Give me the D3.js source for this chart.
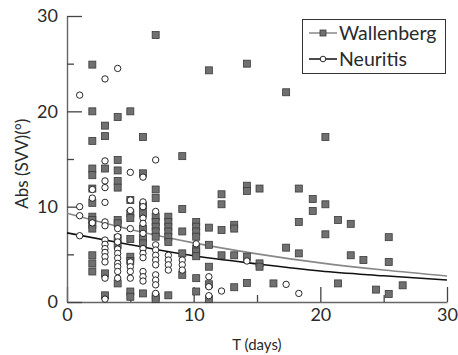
<!DOCTYPE html>
<html>
<head>
<meta charset="utf-8">
<script src="https://cdn.jsdelivr.net/npm/d3@7"></script>
<style>
  body { margin: 0; background: #fff; }
  svg text { font-family: Lato, "DejaVu Sans", sans-serif; fill: #2a2a2a; }
</style>
</head>
<body>
<div id="chart"></div>
<script>
// series values: [T (days), Abs(SVV) degrees]
const wallenberg = [
  [7, 28.0], [2, 24.9], [11.2, 24.3], [14.2, 25.0], [17.3, 22.0], [2, 20.0], [5, 20.0], [4, 19.4],
  [20.4, 17.3], [3, 18.5], [3, 17.4], [6, 17.3], [2, 16.9], [4, 14.9], [9.1, 15.3], [2, 14.0],
  [2, 13.3], [3, 14.0], [4, 13.8], [6, 13.5], [4, 12.7], [4, 12.0], [2, 11.9], [7, 11.8],
  [7, 10.9], [2, 10.4], [5, 10.7], [6, 10.1], [9.1, 9.75],
  [12.2, 11.3], [12.2, 10.25], [14.2, 12.2], [14.2, 11.65], [15.2, 11.9], [18.3, 11.9],
  [19.4, 10.8], [19.4, 9.55], [20.4, 10.25], [21.4, 8.6], [22.4, 8.2], [20.4, 7.1], [25.4, 6.8],
  [22.4, 4.9], [23.4, 4.4], [25.4, 4.2], [21.4, 1.95], [24.4, 1.3], [25.4, 0.85], [26.5, 1.75],
  [18.3, 8.4], [9.1, 7.4], [10.2, 8.4], [10.2, 7.9], [10.2, 7.4], [10.2, 6.85], [11.2, 7.8],
  [12.2, 7.55], [13.2, 8.1], [13.2, 7.7], [10.2, 5.6], [10.2, 5.3], [10.2, 4.8], [11.2, 6.0],
  [17.3, 5.7], [18.3, 5.1], [12.2, 4.9], [13.2, 4.9], [14.2, 4.75], [15.2, 4.05], [15.2, 3.7],
  [9.1, 5.1], [9.1, 2.85], [10.2, 2.5], [11.2, 3.7], [11.2, 1.86], [11.2, 0.3], [13.2, 1.55],
  [14.2, 2.0], [16.3, 1.95], [10.2, 1.1],
  [2, 8.95], [2, 8.6], [2, 8.1], [2, 7.7], [2, 4.9], [2, 4.05], [2, 3.2],
  [3, 3.0], [3, 0.7],
  [4, 8.6], [4, 8.25], [4, 6.7], [4, 6.0], [4, 1.95],
  [5, 9.3], [5, 8.8], [5, 6.6], [5, 4.75], [5, 4.3], [5, 1.1], [5, 0.55],
  [6, 9.3], [6, 7.7], [6, 6.7], [6, 6.15], [6, 0.9],
  [7, 8.95], [7, 8.4], [7, 7.9], [7, 7.4], [7, 6.85], [7, 0.55], [7, 0.3],
  [8, 8.95], [8, 8.4], [8, 7.9], [8, 7.4], [8, 6.85], [8, 6.3], [8, 0.7]
];

const neuritis = [
  [4, 24.5], [3, 23.4], [1, 21.7], [3, 14.8], [7, 14.9], [5, 13.6], [6, 13.1], [3, 12.7],
  [3, 12.0], [2, 11.8], [2, 10.9], [3, 10.45], [5, 10.7], [6, 10.5], [1, 10.0],
  [1, 9.05], [1, 6.95], [2, 8.3],
  [3, 8.4], [3, 8.0], [3, 6.5], [3, 6.05], [3, 5.6], [3, 5.2], [3, 4.75], [3, 4.2], [3, 2.5], [3, 0.3],
  [4, 7.7], [4, 6.85], [4, 6.3], [4, 5.55], [4, 5.1], [4, 4.6], [4, 4.05], [4, 3.7], [4, 3.2], [4, 2.5],
  [5, 9.6], [5, 7.7], [5, 4.2], [5, 3.7], [5, 3.2], [5, 2.5],
  [6, 10.0], [6, 8.8], [6, 8.25], [6, 7.2], [6, 5.6], [6, 5.1], [6, 4.65], [6, 3.2], [6, 2.65], [6, 2.2],
  [7, 9.5], [7, 6.0], [7, 5.45], [7, 4.9], [7, 4.4], [7, 3.9], [7, 2.85], [7, 2.3], [7, 1.8], [7, 0.9],
  [8, 4.9], [8, 4.4], [8, 3.9], [8, 3.35],
  [9.1, 4.4], [9.1, 3.9], [9.1, 3.35],
  [10.2, 6.1], [14.2, 4.3], [11.2, 2.65], [11.2, 1.6], [11.2, 0.66], [12.2, 1.15], [17.3, 1.85], [18.3, 0.9]
];

// fitted curves
const wallenbergFit = [[0, 9.3], [5, 7.6], [10, 6.2], [15, 5.05], [20, 4.1], [25, 3.35], [30, 2.73]];
const neuritisFit = [[0, 7.25], [5, 6.0], [10, 4.85], [15, 4.0], [20, 3.25], [25, 2.75], [30, 2.3]];

const majorTicks = [0, 10, 20, 30];
const minorTicks = [5, 15, 25];
const seriesNames = ['Wallenberg', 'Neuritis'];

const width = 458, height = 355;
const svg = d3.select('#chart').append('svg')
  .attr('width', width)
  .attr('height', height);

const x = d3.scaleLinear().domain([0, 30]).range([67, 447]);
const y = d3.scaleLinear().domain([0, 30]).range([302, 16]);

const axisColor = '#666';

// x axis (ticks point up into the plot)
const gx = svg.append('g').attr('transform', `translate(0,${y(0)})`)
  .call(d3.axisBottom(x).tickValues(majorTicks).tickSizeInner(-15).tickSizeOuter(0).tickPadding(5).tickFormat(d3.format('d')));
svg.append('g').attr('transform', `translate(0,${y(0)})`)
  .call(d3.axisBottom(x).tickValues(minorTicks).tickSizeInner(-7).tickSizeOuter(0).tickFormat(''))
  .select('.domain').remove();

// y axis (ticks point right into the plot)
const gy = svg.append('g').attr('transform', `translate(${x(0)},0)`)
  .call(d3.axisLeft(y).tickValues(majorTicks).tickSizeInner(-15).tickSizeOuter(0).tickPadding(9).tickFormat(d3.format('d')));
svg.append('g').attr('transform', `translate(${x(0)},0)`)
  .call(d3.axisLeft(y).tickValues(minorTicks).tickSizeInner(-7).tickSizeOuter(0).tickFormat(''))
  .select('.domain').remove();

svg.selectAll('.domain').attr('stroke', axisColor).attr('stroke-width', 1.4);
svg.selectAll('.tick line').attr('stroke', '#444').attr('stroke-width', 1.3);
svg.selectAll('.tick text').attr('font-size', 18).attr('fill', '#2a2a2a')
  .style('font-family', 'Lato, "DejaVu Sans", sans-serif');
gx.selectAll('.tick text').attr('dy', '0.8em');

// axis titles
svg.append('text')
  .attr('x', x(15)).attr('y', 350)
  .attr('text-anchor', 'middle')
  .attr('font-size', 15)
  .text('T (days)');

svg.append('text')
  .attr('transform', `translate(28,${y(14.5)}) rotate(-90)`)
  .attr('text-anchor', 'middle')
  .attr('font-size', 17)
  .text('Abs (SVV)(°)');

// fit curves
const line = d3.line().x(d => x(d[0])).y(d => y(d[1])).curve(d3.curveMonotoneX);
svg.append('path').datum(wallenbergFit)
  .attr('d', line).attr('fill', 'none').attr('stroke', '#888').attr('stroke-width', 1.6);
svg.append('path').datum(neuritisFit)
  .attr('d', line).attr('fill', 'none').attr('stroke', '#111').attr('stroke-width', 1.6);

// points
const sq = 7;
svg.append('g').selectAll('rect')
  .data(wallenberg)
  .enter().append('rect')
  .attr('x', d => x(d[0]) - sq / 2)
  .attr('y', d => y(d[1]) - sq / 2)
  .attr('width', sq).attr('height', sq)
  .attr('fill', '#707070')
  .attr('stroke', '#3a3a3a')
  .attr('stroke-width', 0.8);

svg.append('g').selectAll('circle')
  .data(neuritis)
  .enter().append('circle')
  .attr('cx', d => x(d[0]))
  .attr('cy', d => y(d[1]))
  .attr('r', 3.2)
  .attr('fill', '#fff')
  .attr('stroke', '#111')
  .attr('stroke-width', 0.9);

// legend
const legend = svg.append('g');
legend.append('rect')
  .attr('x', 302.5).attr('y', 19.5).attr('width', 143).attr('height', 54)
  .attr('fill', '#fff').attr('stroke', '#333').attr('stroke-width', 1);

const legendRows = [
  { name: seriesNames[0], color: '#888', yy: 33 },
  { name: seriesNames[1], color: '#111', yy: 59 }
];
legendRows.forEach((r, i) => {
  legend.append('line')
    .attr('x1', 309).attr('x2', 337).attr('y1', r.yy).attr('y2', r.yy)
    .attr('stroke', r.color).attr('stroke-width', 1.5);
  if (i === 0) {
    legend.append('rect')
      .attr('x', 323 - 3).attr('y', r.yy - 3).attr('width', 6).attr('height', 6)
      .attr('fill', '#707070').attr('stroke', '#3a3a3a').attr('stroke-width', 0.8);
  } else {
    legend.append('circle')
      .attr('cx', 323).attr('cy', r.yy).attr('r', 2.8)
      .attr('fill', '#fff').attr('stroke', '#111').attr('stroke-width', 0.9);
  }
  legend.append('text')
    .attr('x', 339).attr('y', r.yy + 6.5)
    .attr('font-size', 19.5)
    .text(r.name);
});
</script>
</body>
</html>
